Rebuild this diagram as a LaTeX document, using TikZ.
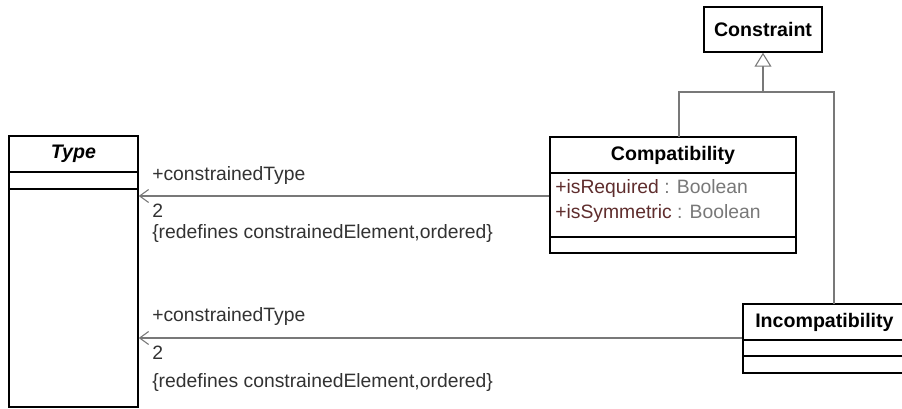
\documentclass[tikz,border=0pt]{standalone}
\usepackage{fontspec}
\setmainfont{Liberation Sans}
\usetikzlibrary{arrows.meta,calc,fit}
\definecolor{connc}{RGB}{120,120,120}
\definecolor{attrname}{RGB}{95,45,45}
\definecolor{attrtype}{RGB}{120,120,120}
\definecolor{labc}{RGB}{50,50,50}
\begin{document}
\begin{tikzpicture}[x=0.75pt,y=-0.75pt,
  every node/.style={font=\fontsize{14.5}{17.4}\selectfont},
  classbox/.style={draw=black,line width=1.1pt,inner sep=0pt,fill=white},
  divider/.style={draw=black,line width=1.1pt},
  title/.style={font=\fontsize{14.7}{17.6}\selectfont\bfseries,inner sep=0pt},
  lab/.style={anchor=west,inner sep=0pt,text=labc},
  attr/.style={anchor=west,inner sep=0pt},
  conn/.style={draw=connc,line width=0.8pt},
  assoc/.style={conn,-{Straight Barb[length=6.75pt,width=9.75pt,line width=0.8pt]}},
  gen/.style={conn,-{Triangle[open,length=10.5pt,width=12.75pt,line width=0.8pt,fill=white]}}
]
\useasboundingbox (0,0) rectangle (902,408);

% Classes
\node[classbox,fit={(9,136) (138,407)}] (type) {};
\draw[divider] (9,172) -- (138,172);
\draw[divider] (9,189) -- (138,189);
\node[title,font=\fontsize{14.7}{17.6}\selectfont\bfseries\itshape] (typet) at (73.5,154) {Type};

\node[classbox,fit={(704,7) (822,52)}] (constraint) {};
\node[title] (constraintt) at (763,29.5) {Constraint};

\node[classbox,fit={(550,137) (796,253)}] (comp) {};
\draw[divider] (550,173) -- (796,173);
\draw[divider] (550,237) -- (796,237);
\node[title] (compt) at (673,155) {Compatibility};
\node[attr] (a1) at (555,188) {\textcolor{attrname}{+isRequired}\textcolor{attrtype}{\ : Boolean}};
\node[attr] (a2) at (555,213) {\textcolor{attrname}{+isSymmetric}\textcolor{attrtype}{\ : Boolean}};

\node[classbox,fit={(743,304) (910,373)}] (incomp) {};
\draw[divider] (743,340) -- (910,340);
\draw[divider] (743,356) -- (910,356);
\node[title,anchor=west] (incompt) at (755,322) {Incompatibility};

% Generalization
\coordinate (j) at (763,92);
\coordinate (cj) at (679,137);
\coordinate (ij) at (834,304);
\draw[conn] (cj) |- (j);
\draw[conn] (ij) |- (j);
\draw[gen] (j) -- (constraint.south);

% Associations
\draw[assoc] (comp.west |- 0,196) -- (type.east |- 0,196);
\draw[assoc] (incomp.west |- 0,338) -- (type.east |- 0,338);

\node[lab] (l1) at (152,175) {+constrainedType};
\node[lab] (m1) at (152,211) {2};
\node[lab] (r1) at (152,233) {\{redefines constrainedElement,ordered\}};
\node[lab] (l2) at (152,316) {+constrainedType};
\node[lab] (m2) at (152,353) {2};
\node[lab] (r2) at (152,382) {\{redefines constrainedElement,ordered\}};
\end{tikzpicture}
\end{document}
